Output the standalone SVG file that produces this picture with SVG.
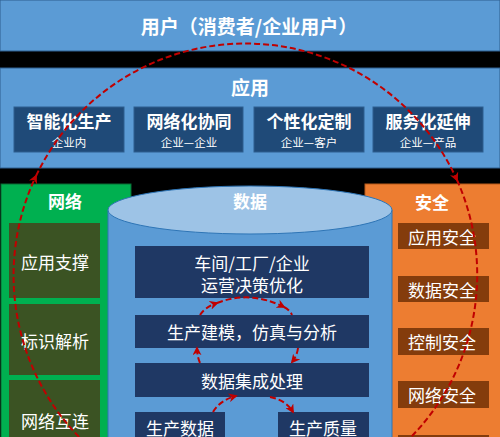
<svg xmlns="http://www.w3.org/2000/svg" width="500" height="437" viewBox="0 0 500 437">
<style>
text{font-family:"Noto Sans CJK SC","Noto Sans",sans-serif;fill:#fff;text-anchor:middle;dominant-baseline:central}
.b{font-weight:bold}
.t1{font-size:19px}
.t2{font-size:17px}
.t3{font-size:11.5px}
.band{fill:#5b9bd5;stroke:#2e5f8f;stroke-width:1}
.app{fill:#1f4a78;stroke:#2e5f8f}
.dat{fill:#1f3864}
.net{fill:#3b5323}
.sec{fill:#843c0c}
.flow{fill:none;stroke:#c00000;stroke-width:2;stroke-dasharray:6,3}
</style>
<defs>
<marker id="ah" viewBox="0 0 10 10" refX="8" refY="5" markerWidth="4.5" markerHeight="4.5" orient="auto" markerUnits="strokeWidth">
<path d="M0,0 L10,5 L0,10 L3,5 z" fill="#c00000"/>
</marker>
</defs>
<rect x="0" y="0" width="500" height="437" fill="#000"/>
<g id="user">
<rect class="band" x="0" y="0" width="500" height="51"/>
<text class="b t1" x="249" y="25">用户（消费者/企业用户）</text>
</g>
<g id="app">
<rect class="band" x="0" y="68" width="500" height="100"/>
<text class="b t1" x="250" y="86">应用</text>
</g>
<g id="app1"><rect class="app" x="14" y="107" width="110" height="45"/><text class="b t2" x="69" y="120">智能化生产</text><text class="t3" x="69" y="142">企业内</text></g>
<g id="app2"><rect class="app" x="134" y="107" width="109" height="45"/><text class="b t2" x="189" y="120">网络化协同</text><text class="t3" x="189" y="142">企业—企业</text></g>
<g id="app3"><rect class="app" x="254" y="107" width="110" height="45"/><text class="b t2" x="309" y="120">个性化定制</text><text class="t3" x="309" y="142">企业—客户</text></g>
<g id="app4"><rect class="app" x="373" y="107" width="110" height="45"/><text class="b t2" x="428" y="120">服务化延伸</text><text class="t3" x="428" y="142">企业—产品</text></g>
<g id="network">
<rect x="1" y="184" width="130" height="260" fill="#00b050" stroke="#0a6b35"/>
<text class="b t2" x="65" y="200">网络</text>
</g>
<g id="net1"><rect class="net" x="9" y="223" width="91" height="75"/><text class="t2" x="55" y="261">应用支撑</text></g>
<g id="net2"><rect class="net" x="9" y="304" width="91" height="71"/><text class="t2" x="55" y="340">标识解析</text></g>
<g id="net3"><rect class="net" x="9" y="380" width="91" height="70"/><text class="t2" x="55" y="420">网络互连</text></g>
<g id="security">
<rect x="365" y="184" width="136" height="260" fill="#ed7d31" stroke="#b85a1a"/>
<text class="b t2" x="432" y="201">安全</text>
</g>
<g id="sec1"><rect class="sec" x="398" y="223" width="91" height="26"/><text class="t2" x="442" y="236">应用安全</text></g>
<g id="sec2"><rect class="sec" x="398" y="276" width="91" height="26"/><text class="t2" x="442" y="289">数据安全</text></g>
<g id="sec3"><rect class="sec" x="398" y="328" width="91" height="27"/><text class="t2" x="442" y="341">控制安全</text></g>
<g id="sec4"><rect class="sec" x="398" y="381" width="91" height="27"/><text class="t2" x="442" y="394">网络安全</text></g>
<g id="sec5"><rect class="sec" x="398" y="435" width="91" height="10"/></g>
<g id="data">
<path d="M108,210 L108,445 L392,445 L392,210 Z" fill="#5b9bd5" stroke="#2e75b6"/>
<ellipse cx="250" cy="210" rx="142" ry="24" fill="#9dc3e6" stroke="#2e75b6"/>
<text class="b t2" x="250" y="200">数据</text>
</g>
<g id="d1"><rect class="dat" x="135" y="246" width="234" height="52"/><text class="t2" x="252" y="262">车间/工厂/企业</text><text class="t2" x="252" y="284">运营决策优化</text></g>
<g id="d2"><rect class="dat" x="135" y="315" width="234" height="33"/><text class="t2" x="252" y="331">生产建模，仿真与分析</text></g>
<g id="d3"><rect class="dat" x="135" y="363" width="234" height="34"/><text class="t2" x="252" y="380">数据集成处理</text></g>
<g id="d4"><rect class="dat" x="135" y="412" width="90" height="30"/><text class="t2" x="180" y="427">生产数据</text></g>
<g id="d5"><rect class="dat" x="278" y="412" width="91" height="30"/><text class="t2" x="323" y="427">生产质量</text></g>
<g id="connectors">
<path class="flow" d="M79,437 A232,232 0 0 1 36,176" marker-end="url(#ah)"/>
<path class="flow" d="M36,176 A232,232 0 0 1 457,180" marker-end="url(#ah)"/>
<path class="flow" d="M457,180 A232,232 0 0 1 411,437"/>
<path class="flow" d="M213,412 Q220,400 236,396" marker-end="url(#ah)"/>
<path class="flow" d="M270,397 Q286,400 293,412" marker-end="url(#ah)"/>
<path class="flow" d="M200,363 Q197,356 197,348" marker-end="url(#ah)"/>
<path class="flow" d="M298,348 Q297,356 292,362" marker-end="url(#ah)"/>
<path class="flow" d="M200,315 Q205,307 217,303" marker-end="url(#ah)"/>
<path class="flow" d="M217,303 Q250,290 284,307" marker-end="url(#ah)"/>
<path class="flow" d="M284,307 Q290,310 292,315"/>
</g>
</svg>
